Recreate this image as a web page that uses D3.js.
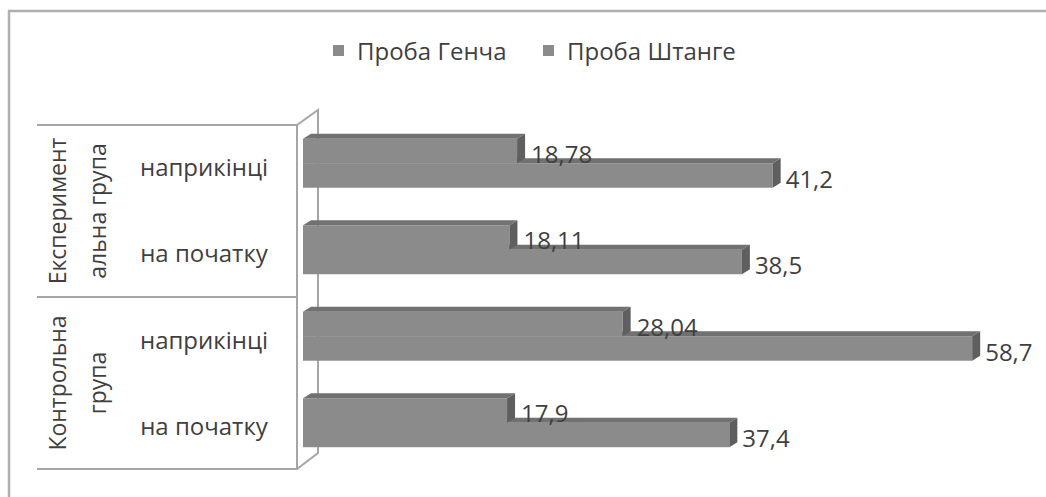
<!DOCTYPE html>
<html>
<head>
<meta charset="utf-8">
<script src="https://cdn.jsdelivr.net/npm/d3@7"></script>
<style>
  body{margin:0;background:#fff;}
  text{font-family:"Open Sans",sans-serif;fill:#3f3f3f;}
</style>
</head>
<body>
<svg id="chart" width="1046" height="497"></svg>
<script>
// categories top to bottom
var categories=["exp-end","exp-start","ctrl-end","ctrl-start"]
var categoryLabels=["наприкінці","на початку","наприкінці","на початку"]
var groupLabels=[["Експеримент","альна група"],["Контрольна","група"]]
var seriesNames=["Проба Генча","Проба Штанге"]
var genchaValues=[18.78,18.11,28.04,17.9]
var shtangeValues=[41.2,38.5,58.7,37.4]
var genchaLabels=["18,78","18,11","28,04","17,9"]
var shtangeLabels=["41,2","38,5","58,7","37,4"]

var svg=d3.select("#chart")
var fontSize=24
var depth={dx:8,dy:5}
var colors={front:"#8b8b8b",top:"#717171",side:"#5f5f5f",line:"#a6a6a6"}

//scales
var xScale=d3.scaleLinear()
    .domain([0,60])
    .range([303,987])
var yScale=d3.scaleBand()
    .domain(categories)
    .range([120,466])
    .paddingInner(0.434)
    .paddingOuter(0.217)
var ySub=d3.scaleBand()
    .domain([0,1])
    .range([0,yScale.bandwidth()])

//outer border
svg.append("path")
    .attr("d","M9,499 V11 H1048")
    .attr("fill","none")
    .attr("stroke","#b0b0b0")
    .attr("stroke-width",2.5)

//legend
var legend=svg.append("g")
var legendX=[333,543]
seriesNames.forEach(function(name,i){
  legend.append("rect")
    .attr("x",legendX[i]).attr("y",45)
    .attr("width",11).attr("height",11)
    .attr("fill",colors.front)
  legend.append("text")
    .attr("x",legendX[i]+24).attr("y",50)
    .attr("dominant-baseline","central")
    .style("font-size",fontSize+"px")
    .text(name)
})

//table on the left
var tTop=yScale.range()[0]+5, tBot=yScale.range()[1]+3, tMid=(tTop+tBot)/2
var table=svg.append("g")
    .attr("stroke",colors.line)
    .attr("stroke-width",2)
    .attr("fill","none")
table.append("path").attr("d","M37,"+tTop+" H297 V"+tBot+" H37")
table.append("path").attr("d","M37,"+tMid+" H297")
//3d side wall
table.append("path").attr("d","M297,"+tTop+" L318,"+(tTop-15)+" V"+(tBot-16)+" L297,"+tBot)

categories.forEach(function(c,i){
  svg.append("text")
    .attr("x",204)
    .attr("y",yScale(c)+yScale.bandwidth()/2+3)
    .attr("text-anchor","middle")
    .attr("dominant-baseline","central")
    .style("font-size",fontSize+"px")
    .text(categoryLabels[i])
})

groupLabels.forEach(function(lines,g){
  var cy=g==0?(tTop+tMid)/2:(tMid+tBot)/2
  var grp=svg.append("g").attr("transform","translate(77,"+cy+") rotate(-90)")
  lines.forEach(function(l,j){
    grp.append("text")
      .attr("x",0)
      .attr("y",(j-0.5)*40)
      .attr("text-anchor","middle")
      .attr("dominant-baseline","central")
      .style("font-size",(fontSize-1)+"px")
      .text(l)
  })
})

//3d bars
var drawBar=function(target,x0,x1,y,h){
  target.append("rect")
    .attr("x",x0).attr("y",y)
    .attr("width",x1-x0).attr("height",h)
    .attr("fill",colors.front)
  target.append("polygon")
    .attr("points",[[x0,y],[x0+depth.dx,y-depth.dy],[x1+depth.dx,y-depth.dy],[x1,y]].join(" "))
    .attr("fill",colors.top)
  target.append("polygon")
    .attr("points",[[x1,y],[x1+depth.dx,y-depth.dy],[x1+depth.dx,y+h-depth.dy],[x1,y+h]].join(" "))
    .attr("fill",colors.side)
}

var bars=svg.append("g")
categories.forEach(function(c,i){
  var base=yScale(c)
  // Штанге first so the Генча bar sits over its top face
  drawBar(bars,xScale(0),xScale(shtangeValues[i]),base+ySub(1),ySub.bandwidth())
  drawBar(bars,xScale(0),xScale(genchaValues[i]),base+ySub(0),ySub.bandwidth())
})

var labels=svg.append("g")
categories.forEach(function(c,i){
  var base=yScale(c)
  labels.append("text")
    .attr("x",xScale(genchaValues[i])+depth.dx+6)
    .attr("y",base+ySub(0)+ySub.bandwidth()/2+2)
    .attr("dominant-baseline","central")
    .style("font-size",fontSize+"px")
    .text(genchaLabels[i])
  labels.append("text")
    .attr("x",xScale(shtangeValues[i])+depth.dx+5)
    .attr("y",base+ySub(1)+ySub.bandwidth()/2+3)
    .attr("dominant-baseline","central")
    .style("font-size",fontSize+"px")
    .text(shtangeLabels[i])
})
</script>
</body>
</html>
